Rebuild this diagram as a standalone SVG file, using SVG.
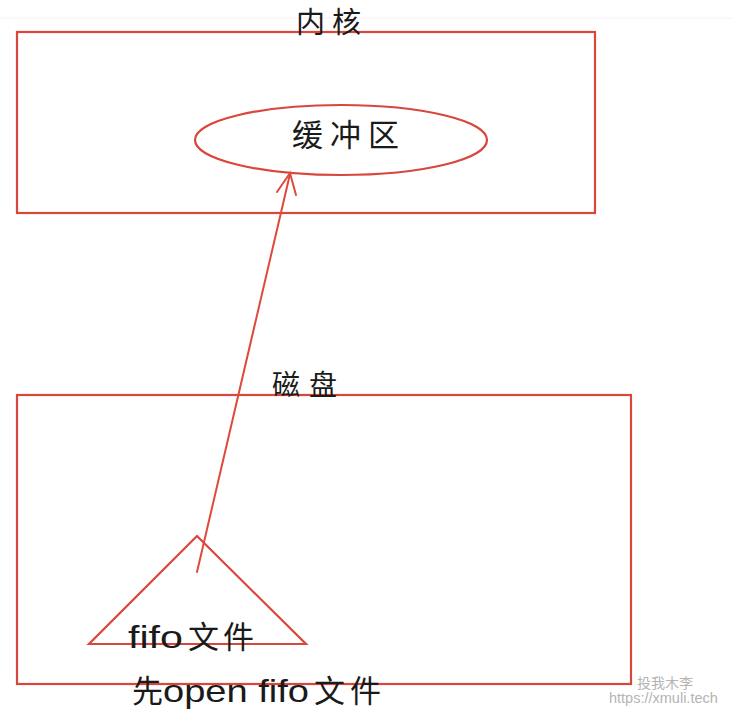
<svg xmlns="http://www.w3.org/2000/svg" width="732" height="720" viewBox="0 0 732 720">
<style>
.box{fill:none;stroke:#d9473c;stroke-width:2.2}
.conn{fill:none;stroke:#dd4a3c;stroke-width:2;stroke-linecap:round}
.cjk{font-family:"Noto Sans CJK SC","Liberation Sans",sans-serif;fill:#1a1a1a}
.lat{font-family:"Liberation Sans","Noto Sans CJK SC",sans-serif;fill:#1a1a1a}
.wm{font-family:"Liberation Sans","Noto Sans CJK SC",sans-serif;fill:#b4b4b4}
</style>
<rect width="732" height="720" fill="#ffffff"/>
<line x1="0" y1="18" x2="732" y2="18" stroke="#f2f2f2" stroke-width="1"/>
<g id="kernel">
<rect class="box" x="17" y="32" width="578" height="181"/>
<text class="cjk" x="296" y="33" font-size="29" letter-spacing="7">内核</text>
</g>
<g id="buffer">
<ellipse class="box" cx="341" cy="140" rx="146" ry="35"/>
<text class="cjk" x="292" y="146" font-size="31" letter-spacing="7">缓冲区</text>
</g>
<g id="disk">
<rect class="box" x="17" y="395" width="614" height="289"/>
<text class="cjk" x="272" y="395" font-size="28" letter-spacing="9">磁盘</text>
</g>
<g id="fifo">
<polygon class="box" points="197,536 89,644 306,644"/>
<text x="128" y="648" font-size="32"><tspan class="lat" textLength="55" lengthAdjust="spacingAndGlyphs">fifo</tspan><tspan class="cjk" x="188" font-size="31" letter-spacing="4">文件</tspan></text>
</g>
<g id="note">
<text x="132" y="702" font-size="32"><tspan class="cjk" font-size="31">先</tspan><tspan class="lat" x="163" textLength="146" lengthAdjust="spacingAndGlyphs">open fifo</tspan><tspan class="cjk" x="314" font-size="31" letter-spacing="5">文件</tspan></text>
</g>
<g id="connectors">
<line class="conn" x1="197" y1="572" x2="290" y2="174"/>
<polyline class="conn" points="277,192 290,173 296,195"/>
</g>
<g id="watermark">
<text class="wm" x="637" y="688" font-size="14">投我木李</text>
<text class="wm" x="609" y="703" font-size="14.5">https://xmuli.tech</text>
</g>
</svg>
